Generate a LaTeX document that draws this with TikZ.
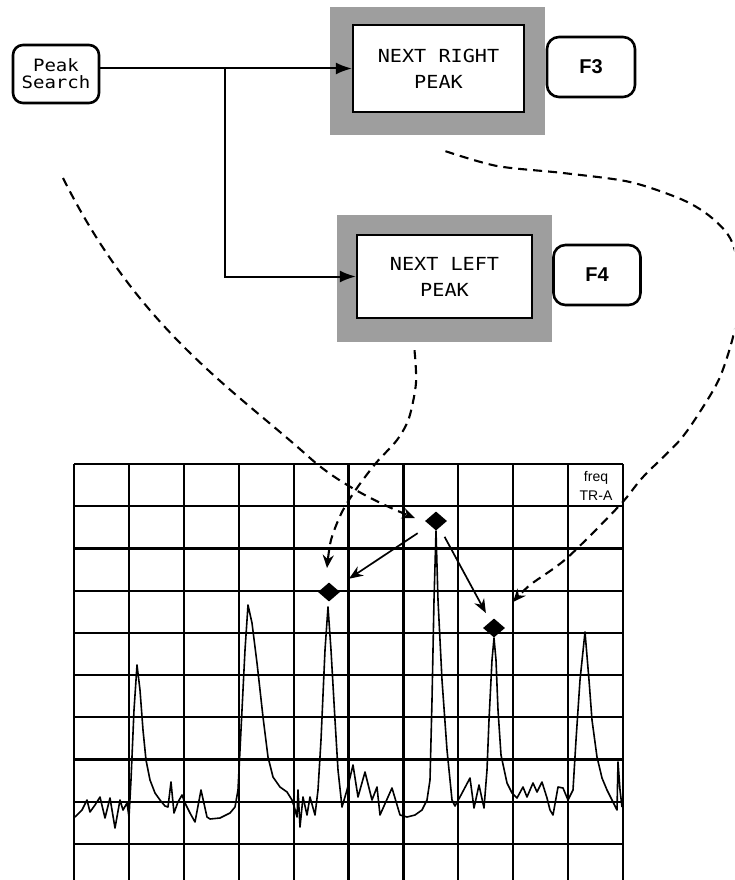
\documentclass[tikz,border=0pt]{standalone}
\usepackage{fontspec}
\newfontfamily\boxfont[FakeStretch=1.12]{DejaVu Sans Mono}
\newfontfamily\keyfont{Liberation Sans}
\usetikzlibrary{arrows.meta,shapes.geometric,calc}
\tikzset{
  keybox/.style={draw, line width=2.6pt, rounded corners=10pt, align=center, inner sep=0pt},
  shadebox/.style={fill=black!38, draw=none, inner sep=0pt},
  funcbox/.style={draw, fill=white, line width=2.2pt, align=center, inner sep=0pt,
    font=\boxfont\fontsize{18}{26}\selectfont},
  gridline/.style={line width=2.2pt},
  trace/.style={line width=1.6pt, line join=round},
  flow/.style={line width=2pt, -{Latex[length=16pt,width=12pt]}},
  dashcurve/.style={line width=2.1pt, dash pattern=on 9pt off 6pt, -{Stealth[length=13pt,width=11pt]}},
  peakarrow/.style={line width=1.7pt, -{Stealth[length=14pt,width=11pt]}},
  marker/.style={diamond, fill=black, inner sep=0pt, minimum width=22pt, minimum height=19pt},
}
\begin{document}
\begin{tikzpicture}[x=1pt,y=-1pt]
\useasboundingbox (0,0) rectangle (734,880);
\clip (0,0) rectangle (734,880);

% grid
\foreach \i in {0,...,10} \draw[gridline] ({74+54.9*\i},464) -- ({74+54.9*\i},880);
\foreach \j in {0,...,9} \draw[gridline] (74,{464+42.2*\j}) -- (623,{464+42.2*\j});

% trace
\draw[trace] plot coordinates {(75,817) (82,810) (87,800) (90,812) (95,805) (100,797) (105,818) (110,798) (115,828) (120,800) (123,810) (127,803) (129,817) (131,780) (134,710) (137,665) (140,690) (143,730) (146,760) (150,780) (155,793) (160,800) (165,806) (168,807) (171,782) (174,813) (178,802) (182,795) (185,803) (190,813) (195,822) (201,790) (207,817) (210,819) (220,818) (230,813) (235,807) (238,790) (241,730) (245,650) (248,605) (252,623) (257,663) (263,717) (268,757) (273,777) (280,787) (287,792) (292,800) (294,806) (297,817) (298,790) (300,827) (303,797) (307,815) (310,797) (315,815) (318,790) (321,740) (325,650) (328,607) (331,650) (335,720) (338,770) (342,807) (347,790) (353,765) (358,797) (365,772) (372,800) (377,787) (380,815) (392,788) (400,815) (407,817) (415,815) (422,810) (427,800) (430,780) (432,700) (434,600) (436,531) (438,600) (442,680) (447,750) (452,800) (455,806) (461,795) (470,778) (474,808) (479,785) (484,808) (487,770) (489,720) (492,660) (494,638) (496,660) (498,710) (501,755) (507,783) (512,793) (517,798) (523,787) (527,797) (533,783) (537,792) (542,782) (547,798) (550,810) (553,815) (558,787) (563,788) (568,800) (573,790) (576,740) (580,680) (585,632) (589,680) (592,720) (597,757) (602,778) (607,790) (612,800) (617,810) (618,762) (620,790) (622,807)};

% markers
\node[marker] (d1) at (436,521) {};
\node[marker] (d2) at (329,592) {};
\node[marker] (d3) at (494,628) {};

\node[font=\keyfont\fontsize{14}{19}\selectfont, align=center, anchor=north, inner sep=0pt] (lbl) at (596,471) {freq\\TR-A};

% boxes
\node[keybox, minimum width=86pt, minimum height=58pt, font=\boxfont\fontsize{17}{17}\selectfont] (ps) at (56,74) {Peak\\Search};
\node[shadebox, minimum width=215pt, minimum height=128pt] (nrpS) at (437.5,71) {};
\node[funcbox, minimum width=171pt, minimum height=87pt] (nrp) at (438.5,68.5) {NEXT RIGHT\\PEAK};
\node[keybox, rounded corners=12pt, minimum width=88pt, minimum height=60pt, font=\keyfont\bfseries\fontsize{20}{24}\selectfont] (f3) at (591,67) {F3};
\node[shadebox, minimum width=215pt, minimum height=127pt] (nlpS) at (444.5,278.5) {};
\node[funcbox, minimum width=175pt, minimum height=83pt] (nlp) at (444.5,276.5) {NEXT LEFT\\PEAK};
\node[keybox, rounded corners=12pt, minimum width=87pt, minimum height=60pt, font=\keyfont\bfseries\fontsize{20}{24}\selectfont] (f4) at (597,275) {F4};

% flow connectors
\draw[flow] (ps.east |- nrp.west) -- (nrp.west);
\coordinate (br) at (225,68.5);
\draw[flow] (br) |- (nlp.west);

% peak arrows
\draw[peakarrow, shorten <=22pt, shorten >=24pt] (d1.center) -- (d2.center);
\draw[peakarrow, shorten <=18pt, shorten >=17pt] (d1.center) -- (d3.center);

% dashed curves
\coordinate (aStart) at (63,178);
\coordinate (aEnd) at ($(d1.center)+(-21,-3)$);
\draw[dashcurve] (aStart) .. controls (139.5,331) and (234.5,390) .. (310,458)
  .. controls (340,485) and (385,506) .. (aEnd);

\coordinate (bStart) at ($(nlpS.south)+(-30,8)$);
\coordinate (bEnd) at ($(d2.center)+(-2,-24)$);
\draw[dashcurve] plot[smooth] coordinates {(bStart) (416,383) (409,418) (397,440) (376,463) (357,488) (342,512) (331,540) (bEnd)};

\coordinate (cStart) at ($(nrpS.south)+(8,16)$);
\coordinate (cEnd) at ($(d3.center)+(19,-26)$);
\draw[dashcurve] plot[smooth] coordinates {(cStart) (497,166) (563,173) (630,182) (683,200) (712,218) (732,242) (742,290) (733,337) (720,377) (703,407) (680,440) (643,477) (620,505) (567,558) (530,585) (cEnd)};
\end{tikzpicture}
\end{document}
